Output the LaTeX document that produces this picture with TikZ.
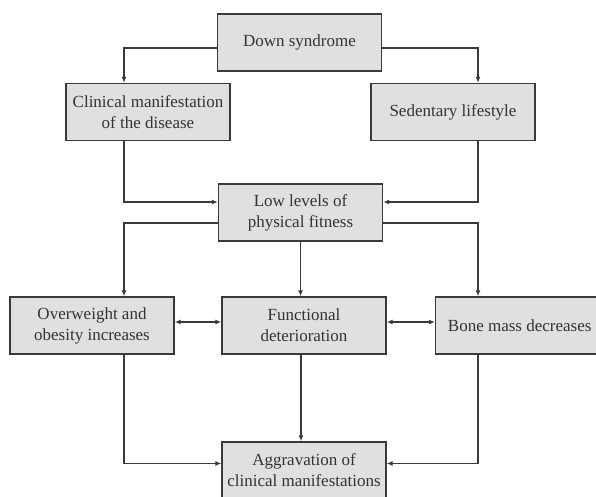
\documentclass[tikz,border=0pt]{standalone}
\usepackage{fontspec}
\setmainfont{Liberation Serif}
\usetikzlibrary{arrows.meta}
\definecolor{boxfill}{HTML}{E0E0E0}
\definecolor{boxline}{HTML}{3A3A3A}
\definecolor{txt}{HTML}{333333}
\begin{document}
\begin{tikzpicture}[x=1pt,y=-1pt,
  box/.style={draw=boxline,fill=boxfill,line width=1.4pt,minimum width=164pt,minimum height=57pt,
    inner sep=2pt,align=center,text=txt,font=\fontsize{17}{21}\selectfont},
  arr/.style={draw=boxline,line width=1.2pt,-{Latex[length=6pt,width=5pt]}},
  arrb/.style={draw=boxline,line width=1.2pt,{Latex[length=6pt,width=5pt]}-{Latex[length=6pt,width=5pt]}}]
\useasboundingbox (0,0) rectangle (596,497);
\clip (0,0) rectangle (596,497);
\node[box] (down) at (299.5,42.5) {Down syndrome};
\node[box] (clin) at (148,112) {Clinical manifestation\\of the disease};
\node[box] (sed) at (453,112) {Sedentary lifestyle};
\node[box] (low) at (300.5,212.5) {Low levels of\\physical fitness};
\node[box] (ow) at (92,325.5) {Overweight and\\obesity increases};
\node[box] (func) at (304,325.5) {Functional\\deterioration};
\node[box,anchor=west] (bone) at (435,325.5) {\hspace*{4pt}Bone mass decreases};
\node[box] (agg) at (304,470.5) {Aggravation of\\clinical manifestations};
\draw[arr] ([yshift=-5.5pt]down.west) -| ([xshift=-24pt]clin.north);
\draw[arr] ([yshift=-5.5pt]down.east) -| ([xshift=25pt]sed.north);
\draw[arr] ([xshift=-24pt]clin.south) |- ([yshift=10.5pt]low.west);
\draw[arr] ([xshift=25pt]sed.south) |- ([yshift=10.5pt]low.east);
\draw[arr] ([yshift=-10.5pt]low.west) -| ([xshift=32pt]ow.north);
\draw[arr] ([yshift=-10.5pt]low.east) -| ([xshift=43pt]bone.north west);
\draw[arr] (low.south) -- (low.south |- func.north);
\draw[arrb] ([yshift=3.5pt]ow.east) -- ([yshift=3.5pt]func.west);
\draw[arrb] ([yshift=3.5pt]func.east) -- ([yshift=3.5pt]bone.west);
\draw[arr] ([xshift=-3pt]func.south) -- ([xshift=-3pt]agg.north);
\draw[arr] ([xshift=32pt]ow.south) |- ([yshift=7pt]agg.west);
\draw[arr] ([xshift=43pt]bone.south west) |- ([yshift=7pt]agg.east);
\end{tikzpicture}
\end{document}
